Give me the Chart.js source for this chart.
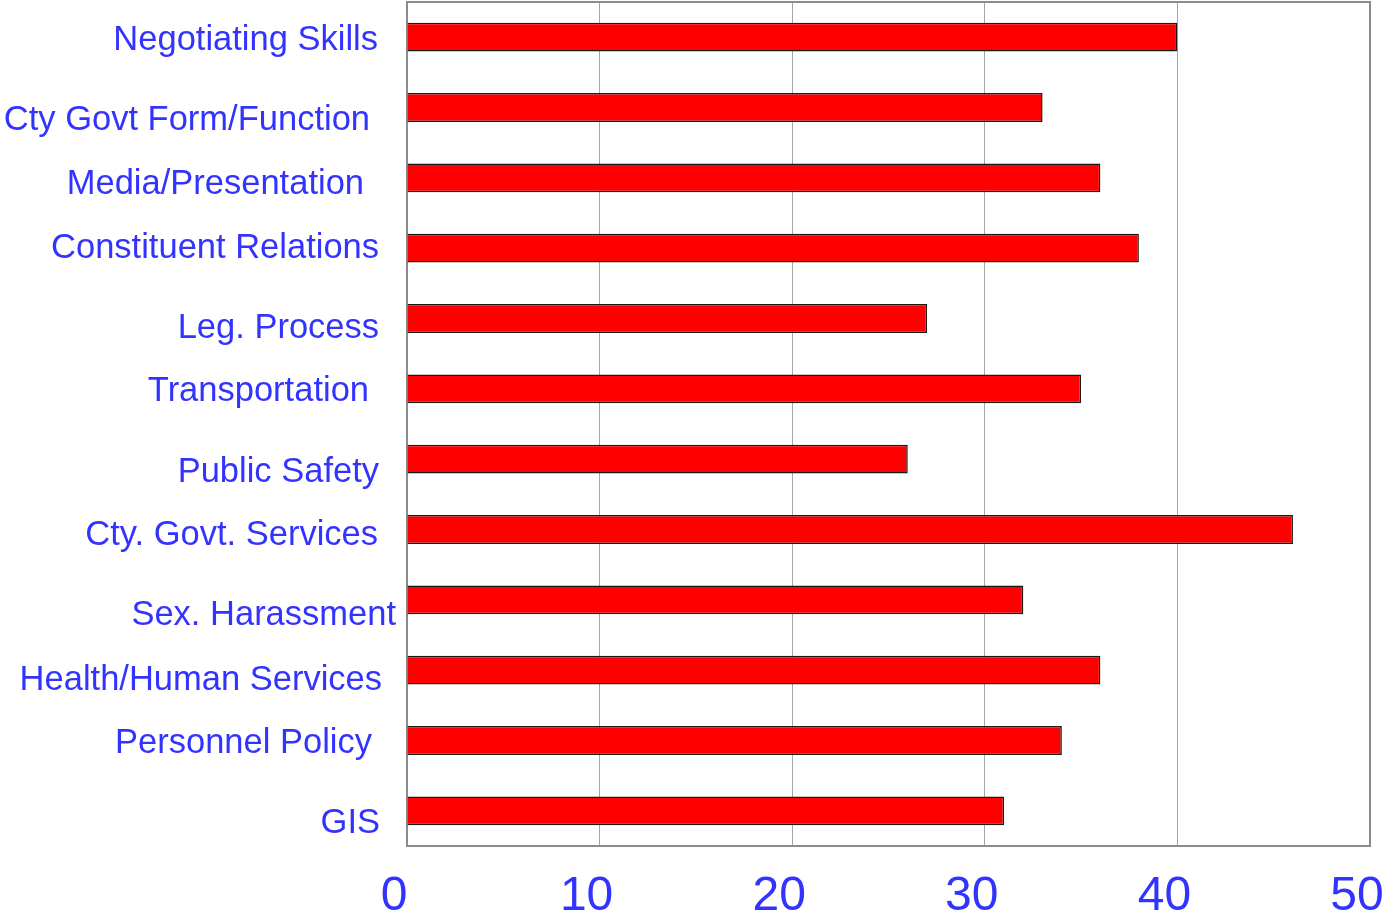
<!DOCTYPE html>
<html>
<head>
<meta charset="utf-8">
<script src="https://cdn.jsdelivr.net/npm/chart.js@4"></script>
<style>
  html, body { margin: 0; padding: 0; background: #fff; }
  #wrap { width: 1384px; height: 914px; }
</style>
</head>
<body>
<div id="wrap"><canvas id="chart"></canvas></div>
<script>
// ── Data ──────────────────────────
const categories = [
  "Negotiating Skills",
  "Cty Govt Form/Function",
  "Media/Presentation",
  "Constituent Relations",
  "Leg. Process",
  "Transportation",
  "Public Safety",
  "Cty. Govt. Services",
  "Sex. Harassment",
  "Health/Human Services",
  "Personnel Policy",
  "GIS",
];
const values = [40, 33, 36, 38, 27, 35, 26, 46, 32, 36, 34, 31];
const xTicks = [0, 10, 20, 30, 40, 50];

// label placement tweaks (right edge shift, vertical shift) to follow the original
const labelShift = [
  [-29, 3], [-37, 13], [-43, 7], [-28, 0], [-28, 10], [-38, 3],
  [-28, 13], [-29, 6], [-11, 16], [-25, 10], [-35, 3], [-27, 13],
];

const BLUE = "#3333ff";
const FONT = "'Liberation Sans', Arial, sans-serif";

const frame = {
  id: "frame",
  beforeDatasetsDraw(chart) {
    const { ctx, chartArea: a } = chart;
    ctx.save();
    ctx.strokeStyle = "#8c8c8c";
    ctx.lineWidth = 2;
    ctx.strokeRect(a.left, a.top, a.right - a.left, a.bottom - a.top);
    ctx.restore();
  },
  afterDraw(chart) {
    const { ctx, chartArea: a } = chart;
    const y = chart.scales.y;
    ctx.save();
    ctx.fillStyle = BLUE;
    ctx.font = "34.5px " + FONT;
    ctx.textAlign = "right";
    ctx.textBaseline = "middle";
    categories.forEach((c, i) => {
      const [dx, dy] = labelShift[i];
      ctx.fillText(c, a.left + dx, y.getPixelForValue(i) + dy);
    });
    ctx.restore();
  },
};

new Chart(document.getElementById("chart"), {
  type: "bar",
  data: {
    labels: categories,
    datasets: [
      {
        data: values,
        backgroundColor: "#ff0000",
        borderColor: "#1a1a1a",
        borderWidth: 1.5,
        barPercentage: 0.41,
        categoryPercentage: 1,
      },
    ],
  },
  options: {
    indexAxis: "y",
    responsive: true,
    maintainAspectRatio: false,
    animation: false,
    layout: { padding: { left: 407, right: 14, top: 2, bottom: 0 } },
    plugins: {
      legend: { display: false },
      tooltip: { enabled: false },
    },
    scales: {
      x: {
        min: 0,
        max: 50,
        afterBuildTicks: (s) => {
          s.ticks = xTicks.map((v) => ({ value: v }));
        },
        afterFit: (s) => {
          s.paddingLeft = 0;
          s.paddingRight = 0;
          s.height = 68;
        },
        grid: { color: "#a6a6a6", lineWidth: 1, drawTicks: false },
        border: { display: false },
        ticks: {
          color: BLUE,
          font: { family: FONT, size: 48 },
          padding: 22,
          labelOffset: -13,
          maxRotation: 0,
          autoSkip: false,
        },
      },
      y: {
        afterFit: (s) => {
          s.width = 0;
        },
        ticks: { display: false },
        grid: { display: false, drawTicks: false },
        border: { display: false },
      },
    },
  },
  plugins: [frame],
});
</script>
</body>
</html>
